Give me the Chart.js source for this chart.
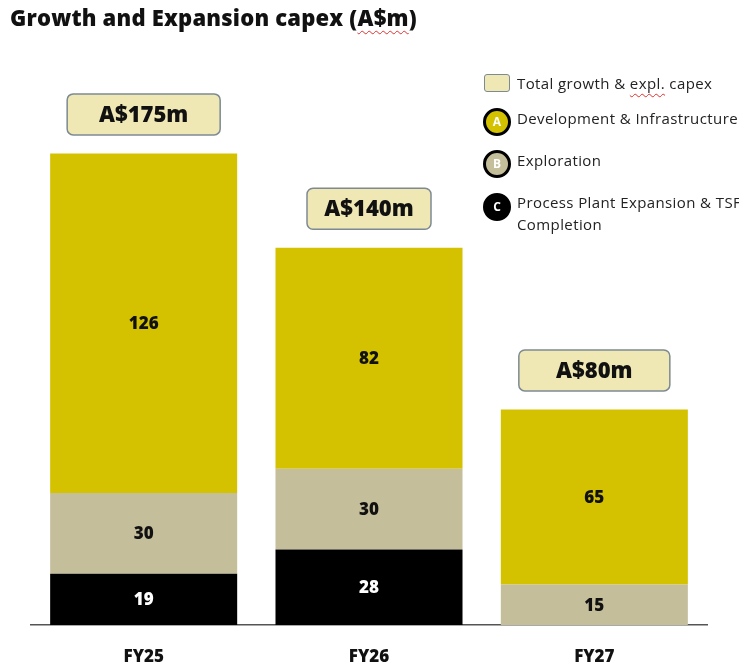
<!DOCTYPE html>
<html><head><meta charset="utf-8">
<script src="https://cdn.jsdelivr.net/npm/chart.js@4.4.1/dist/chart.umd.min.js"></script>
<style>
html,body{margin:0;padding:0;background:#fff;}
#wrap{position:relative;width:739px;height:669px;overflow:hidden;}
#c{position:absolute;left:0;top:0;}
#title{position:absolute;left:10px;top:2px;font:800 22px "Open Sans",sans-serif;color:#111;white-space:nowrap;letter-spacing:0.2px;}
.sq{text-decoration:underline wavy #e03030;text-decoration-thickness:1px;text-underline-offset:4px;}
.lt{position:absolute;left:517px;font:15px "Open Sans",sans-serif;color:#222;line-height:22px;white-space:nowrap;letter-spacing:0.4px;}
.sw{position:absolute;left:484px;top:74px;width:24px;height:16px;background:#efe8b4;border:1.5px solid #7d8a92;border-radius:3px;}
.ci{position:absolute;left:483px;width:22px;height:22px;border:3px solid #000;border-radius:50%;color:#fff;font:bold 12px "Open Sans",sans-serif;text-align:center;line-height:22px;}
</style></head>
<body>
<div id="wrap">
<canvas id="c" width="739" height="669"></canvas>
<div id="title">Growth and Expansion capex (<span class="sq">A$m</span>)</div>
<div class="sw"></div>
<div class="lt" style="top:72px">Total growth &amp; <span class="sq">expl.</span> capex</div>
<div class="ci" style="top:108px;background:#d4c200;">A</div>
<div class="lt" style="top:107px">Development &amp; Infrastructure</div>
<div class="ci" style="top:150px;background:#c5be9b;">B</div>
<div class="lt" style="top:149px">Exploration</div>
<div class="ci" style="top:193px;background:#000;">C</div>
<div class="lt" style="top:191px">Process Plant Expansion &amp; TSF<br>Completion</div>
</div>
<script>
const categories = ["FY25", "FY26", "FY27"];
const processPlant = [19, 28, null];
const exploration = [30, 30, 15];
const development = [126, 82, 65];
const totals = [175, 140, 80];
const totalLabels = ["A$175m", "A$140m", "A$80m"];

const boxWidths = [153, 124, 151];

const segmentLabels = {
  id: 'segmentLabels',
  afterDatasetsDraw(chart) {
    const ctx = chart.ctx;
    ctx.save();
    ctx.font = '800 17px "Open Sans", sans-serif';
    ctx.textAlign = 'center';
    ctx.textBaseline = 'middle';
    chart.data.datasets.forEach((ds, di) => {
      const meta = chart.getDatasetMeta(di);
      meta.data.forEach((el, i) => {
        const v = ds.data[i];
        if (v === null || v === undefined || v === 0) return;
        ctx.fillStyle = ds.labelColor;
        ctx.fillText(String(v), el.x, (el.y + el.base) / 2 + 1);
      });
    });
    const y = chart.scales.y;
    const topMeta = chart.getDatasetMeta(chart.data.datasets.length - 1);
    totals.forEach((t, i) => {
      const cx = topMeta.data[i].x;
      const cy = y.getPixelForValue(t) - 39;
      const w = boxWidths[i], h = 41;
      ctx.beginPath();
      ctx.roundRect(cx - w / 2, cy - h / 2, w, h, 6);
      ctx.fillStyle = '#efe8b4';
      ctx.fill();
      ctx.lineWidth = 1.5;
      ctx.strokeStyle = '#7d8a92';
      ctx.stroke();
      ctx.fillStyle = '#111';
      ctx.font = '800 22px "Open Sans", sans-serif';
      ctx.fillText(totalLabels[i], cx, cy + 1);
    });
    ctx.restore();
  }
};

new Chart(document.getElementById('c'), {
  type: 'bar',
  data: {
    labels: categories,
    datasets: [
      { label: 'Process Plant Expansion & TSF Completion', data: processPlant, backgroundColor: '#000000', labelColor: '#ffffff' },
      { label: 'Exploration', data: exploration, backgroundColor: '#c5be9b', labelColor: '#111111' },
      { label: 'Development & Infrastructure', data: development, backgroundColor: '#d4c200', labelColor: '#111111' }
    ]
  },
  options: {
    responsive: false,
    animation: false,
    layout: { padding: { left: 31, right: 32, top: 86, bottom: 0 } },
    plugins: { legend: { display: false }, tooltip: { enabled: false } },
    datasets: { bar: { categoryPercentage: 1, barPercentage: 0.83 } },
    scales: {
      x: {
        stacked: true,
        grid: { display: false, drawTicks: false },
        border: { display: true, color: '#555', width: 1.5 },
        ticks: { color: '#111', font: { family: '"Open Sans", sans-serif', size: 17, weight: '800' }, padding: 22 },
        afterFit(scale) { scale.height = 44; }
      },
      y: { stacked: true, display: false, min: 0, max: 200 }
    }
  },
  plugins: [segmentLabels]
});
</script>
</body></html>
